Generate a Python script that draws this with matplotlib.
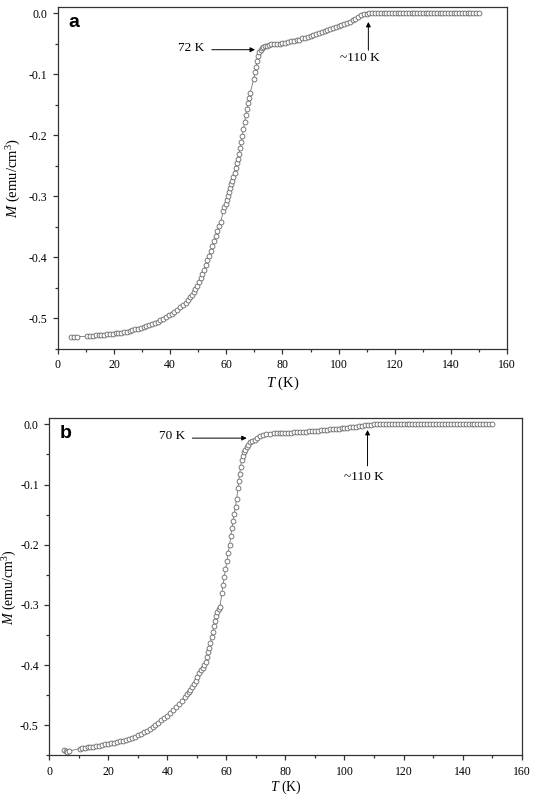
import matplotlib
matplotlib.use("Agg")
import matplotlib.pyplot as plt
from matplotlib.ticker import MultipleLocator, FormatStrFormatter

plt.rcParams['font.family'] = ['Liberation Serif', 'DejaVu Serif']
plt.rcParams['mathtext.fontset'] = 'custom'
plt.rcParams['mathtext.rm'] = 'Liberation Serif'
plt.rcParams['mathtext.it'] = 'Liberation Serif:italic'
plt.rcParams['axes.unicode_minus'] = False

# ---------------- Panel a data ----------------
T_a = [4.8, 5.8, 6.9, 10.5, 11.5, 12.5, 13.5, 14.5, 15.5, 16.5, 17.5, 18.5, 19.5,
       20.5, 21.5, 22.5, 23.5, 24.5, 25.5, 26.5, 27.5, 28.5, 29.5, 30.5, 31.5, 32.5,
       33.5, 34.5, 35.5, 36.5, 37.5, 38.5, 39.5, 40.5, 41.5, 42.5, 43.5, 44.5, 45.5,
       46.5, 47.2, 47.8, 48.4, 49.0, 49.6, 50.2, 50.8, 51.4, 52.0, 52.6, 53.2, 53.8,
       54.4, 55.0, 55.6, 56.2, 56.8, 57.4, 58.0,
       58.9, 59.3, 59.7, 60.1, 60.5, 60.9, 61.3, 61.7, 62.1, 62.5, 62.9, 63.3, 63.7,
       64.1, 64.5, 64.9, 65.3, 65.7, 66.1, 66.5, 66.9, 67.3, 67.7, 68.1, 68.5,
       69.8, 70.2, 70.6, 71.0, 71.4, 71.8, 72.2, 72.7, 73.2, 73.8, 74.5, 75.2, 76, 77,
       78, 79, 80, 81, 82, 83, 84, 85, 86, 87, 88, 89, 90, 91, 92, 93, 94, 95, 96, 97,
       98, 99, 100, 101, 102, 103, 104, 105, 106, 107, 108, 109, 110, 111, 112, 113,
       114, 115, 116, 117, 118, 119, 120, 121, 122, 123, 124, 125, 126, 127, 128, 129,
       130, 131, 132, 133, 134, 135, 136, 137, 138, 139, 140, 141, 142, 143, 144, 145,
       146, 147, 148, 149, 150]
M_a = [-0.530, -0.530, -0.530, -0.529, -0.5285, -0.528, -0.5278, -0.5275, -0.527,
       -0.5265, -0.526, -0.5255, -0.525, -0.5245, -0.524, -0.5235, -0.5225, -0.5215,
       -0.5205, -0.5195, -0.518, -0.5165, -0.515, -0.5135, -0.512, -0.5105, -0.509,
       -0.507, -0.505, -0.503, -0.5005, -0.498, -0.495, -0.492, -0.489, -0.4855,
       -0.482, -0.478, -0.474, -0.4695, -0.465, -0.461, -0.456, -0.451, -0.446,
       -0.440, -0.434, -0.427, -0.420, -0.413, -0.405, -0.397, -0.389, -0.381,
       -0.373, -0.365, -0.357, -0.349, -0.342,
       -0.3235, -0.318, -0.312, -0.306, -0.2995, -0.293, -0.287, -0.2805, -0.274,
       -0.268, -0.261, -0.2535, -0.246, -0.238, -0.230, -0.2215, -0.2115, -0.2005,
       -0.189, -0.178, -0.167, -0.1565, -0.147, -0.138, -0.130,
       -0.107, -0.097, -0.088, -0.079, -0.070, -0.0635, -0.0595, -0.057, -0.055,
       -0.054, -0.053, -0.0518, -0.051, -0.0505, -0.050, -0.0497, -0.049, -0.048,
       -0.047, -0.046, -0.0455, -0.044, -0.043, -0.041, -0.040, -0.0385, -0.037,
       -0.036, -0.034, -0.0325, -0.031, -0.029, -0.0275, -0.026, -0.0245, -0.023,
       -0.0215, -0.0195, -0.018, -0.0165, -0.014, -0.0115, -0.009, -0.006, -0.0035,
       -0.0018, -0.0005, 0.0, 0.0, 0.0, 0.0, 0.0, 0.0, 0.0, 0.0, 0.0, 0.0, 0.0, 0.0,
       0.0, 0.0, 0.0, 0.0, 0.0, 0.0, 0.0, 0.0, 0.0, 0.0, 0.0, 0.0, 0.0, 0.0, 0.0,
       0.0, 0.0, 0.0, 0.0, 0.0, 0.0, 0.0, 0.0, 0.0, 0.0, 0.0, 0.0, 0.0]

# ---------------- Panel b data ----------------
T_b = [5.0, 5.6, 6.2, 6.8, 10.3, 11, 12, 13, 14, 15, 16, 17, 18, 19, 20, 21, 22, 23,
       24, 25, 26, 27, 28, 29, 30, 31, 32, 33, 34, 35, 36, 37, 38, 39, 40, 41, 42, 43,
       44, 45, 46, 46.6, 47.2, 47.8, 48.4, 49.0, 49.6, 50.2, 50.8, 51.4, 52.0, 52.5,
       53.0, 53.4, 53.8, 54.2, 54.6, 55.0, 55.4, 55.8, 56.2, 56.6, 57.0, 57.4, 57.8,
       58.5, 58.9, 59.3, 59.7, 60.2, 60.6, 61.1, 61.5, 61.9, 62.3, 62.7, 63.1, 63.5,
       63.9, 64.2, 64.5, 64.8, 65.2, 65.6, 66.0, 66.4, 66.9, 67.4, 68.0, 68.8, 69.7,
       70.5, 71.4, 72.4, 73.5, 74.7, 76, 77, 78, 79, 80, 81, 82, 83, 84, 85, 86, 87,
       88, 89, 90, 91, 92, 93, 94, 95, 96, 97, 98, 99, 100, 101, 102, 103, 104, 105,
       106, 107, 108, 109, 110, 111, 112, 113, 114, 115, 116, 117, 118, 119, 120, 121,
       122, 123, 124, 125, 126, 127, 128, 129, 130, 131, 132, 133, 134, 135, 136, 137,
       138, 139, 140, 141, 142, 143, 144, 145, 146, 147, 148, 149, 150]
M_b = [-0.541, -0.543, -0.544, -0.543, -0.539, -0.5385, -0.538, -0.537, -0.5365,
       -0.536, -0.535, -0.534, -0.533, -0.532, -0.531, -0.530, -0.529, -0.528,
       -0.527, -0.526, -0.525, -0.523, -0.521, -0.519, -0.517, -0.515, -0.512,
       -0.509, -0.506, -0.503, -0.500, -0.496, -0.492, -0.488, -0.484, -0.480,
       -0.475, -0.470, -0.465, -0.459, -0.453, -0.449, -0.445, -0.441, -0.436,
       -0.431, -0.426, -0.420, -0.414, -0.409, -0.405, -0.400, -0.395, -0.387,
       -0.379, -0.371, -0.363, -0.354, -0.345, -0.3355, -0.327, -0.319, -0.312,
       -0.307, -0.304,
       -0.281, -0.2675, -0.254, -0.2405, -0.227, -0.2135, -0.200, -0.186, -0.172,
       -0.160, -0.149, -0.137, -0.1235, -0.1065, -0.094, -0.082, -0.0715, -0.059,
       -0.052, -0.0465, -0.042, -0.038, -0.034, -0.030, -0.0275, -0.0256, -0.0225,
       -0.020, -0.018, -0.0168, -0.0158, -0.0152, -0.015, -0.0148, -0.0146, -0.0144,
       -0.0141, -0.0138, -0.0135, -0.0132, -0.0129, -0.0126, -0.0122, -0.0118,
       -0.0114, -0.011, -0.0105, -0.0100, -0.0095, -0.009, -0.0085, -0.008, -0.0075,
       -0.007, -0.0065, -0.006, -0.0055, -0.005, -0.0045, -0.004, -0.0033, -0.0026,
       -0.0018, -0.001, -0.0004, 0.0, 0.0, 0.0, 0.0, 0.0, 0.0, 0.0, 0.0, 0.0, 0.0,
       0.0, 0.0, 0.0, 0.0, 0.0, 0.0, 0.0, 0.0, 0.0, 0.0, 0.0, 0.0, 0.0, 0.0, 0.0,
       0.0, 0.0, 0.0, 0.0, 0.0, 0.0, 0.0, 0.0, 0.0, 0.0, 0.0, 0.0, 0.0, 0.0, 0.0,
       0.0]

x_ticks = [0, 20, 40, 60, 80, 100, 120, 140, 160]
y_ticks = [-0.5, -0.4, -0.3, -0.2, -0.1, 0.0]

fig = plt.figure(figsize=(5.34, 7.95), dpi=100)
ax_a = fig.add_axes([0.1086, 0.561, 0.8408, 0.430])
ax_b = fig.add_axes([0.092, 0.050, 0.885, 0.4238])


def style(ax, xpad, ypad, lsize):
    ax.set_xlim(0, 160)
    ax.set_ylim(-0.55, 0.01)
    ax.set_xticks(x_ticks)
    ax.set_yticks(y_ticks)
    ax.xaxis.set_minor_locator(MultipleLocator(10))
    ax.yaxis.set_minor_locator(MultipleLocator(0.05))
    ax.yaxis.set_major_formatter(FormatStrFormatter('%.1f'))
    ax.tick_params(which='both', direction='out', top=False, right=False,
                   labelsize=8.5, color='#333333', width=0.9, pad=4)
    ax.tick_params(which='major', length=3.5)
    ax.tick_params(which='minor', length=2.5)
    for sp in ax.spines.values():
        sp.set_linewidth(0.9)
        sp.set_color('#333333')
    ax.set_xlabel(r'$T$ (K)', fontsize=lsize, labelpad=xpad)
    ax.set_ylabel(r'$M$ (emu/cm$^3$)', fontsize=lsize, labelpad=ypad)


for ax, T, M in [(ax_a, T_a, M_a), (ax_b, T_b, M_b)]:
    ax.plot(T, M, '-', color='#777777', lw=0.6, marker='o', markersize=3.5,
            markerfacecolor='white', markeredgecolor='#666666', markeredgewidth=0.6)

style(ax_a, 2, 4, 10.5)
style(ax_b, 0.5, 1.0, 10)

arrow_kw = dict(arrowstyle='-|>', color='black', lw=0.7, mutation_scale=7,
                shrinkA=0, shrinkB=0)

# panel a annotations
ax_a.text(3.7, -0.0159, 'a', fontsize=14, fontweight='bold',
          family='Liberation Sans', ha='left', va='center')
ax_a.text(47.3, -0.0576, '72 K', fontsize=9.5, ha='center', va='center')
ax_a.annotate('', xy=(70.2, -0.0597), xytext=(54.8, -0.0597), arrowprops=arrow_kw)
ax_a.text(107.6, -0.074, '~110 K', fontsize=9.5, ha='center', va='center')
ax_a.annotate('', xy=(110.6, -0.0142), xytext=(110.6, -0.0606), arrowprops=arrow_kw)

# panel b annotations
ax_b.text(3.7, -0.0147, 'b', fontsize=14, fontweight='bold',
          family='Liberation Sans', ha='left', va='center')
ax_b.text(41.8, -0.019, '70 K', fontsize=9.5, ha='center', va='center')
ax_b.annotate('', xy=(66.9, -0.0229), xytext=(48.5, -0.0229), arrowprops=arrow_kw)
ax_b.text(106.5, -0.087, '~110 K', fontsize=9.5, ha='center', va='center')
ax_b.annotate('', xy=(107.8, -0.0093), xytext=(107.8, -0.069), arrowprops=arrow_kw)

fig.savefig('out.png', dpi=100)
